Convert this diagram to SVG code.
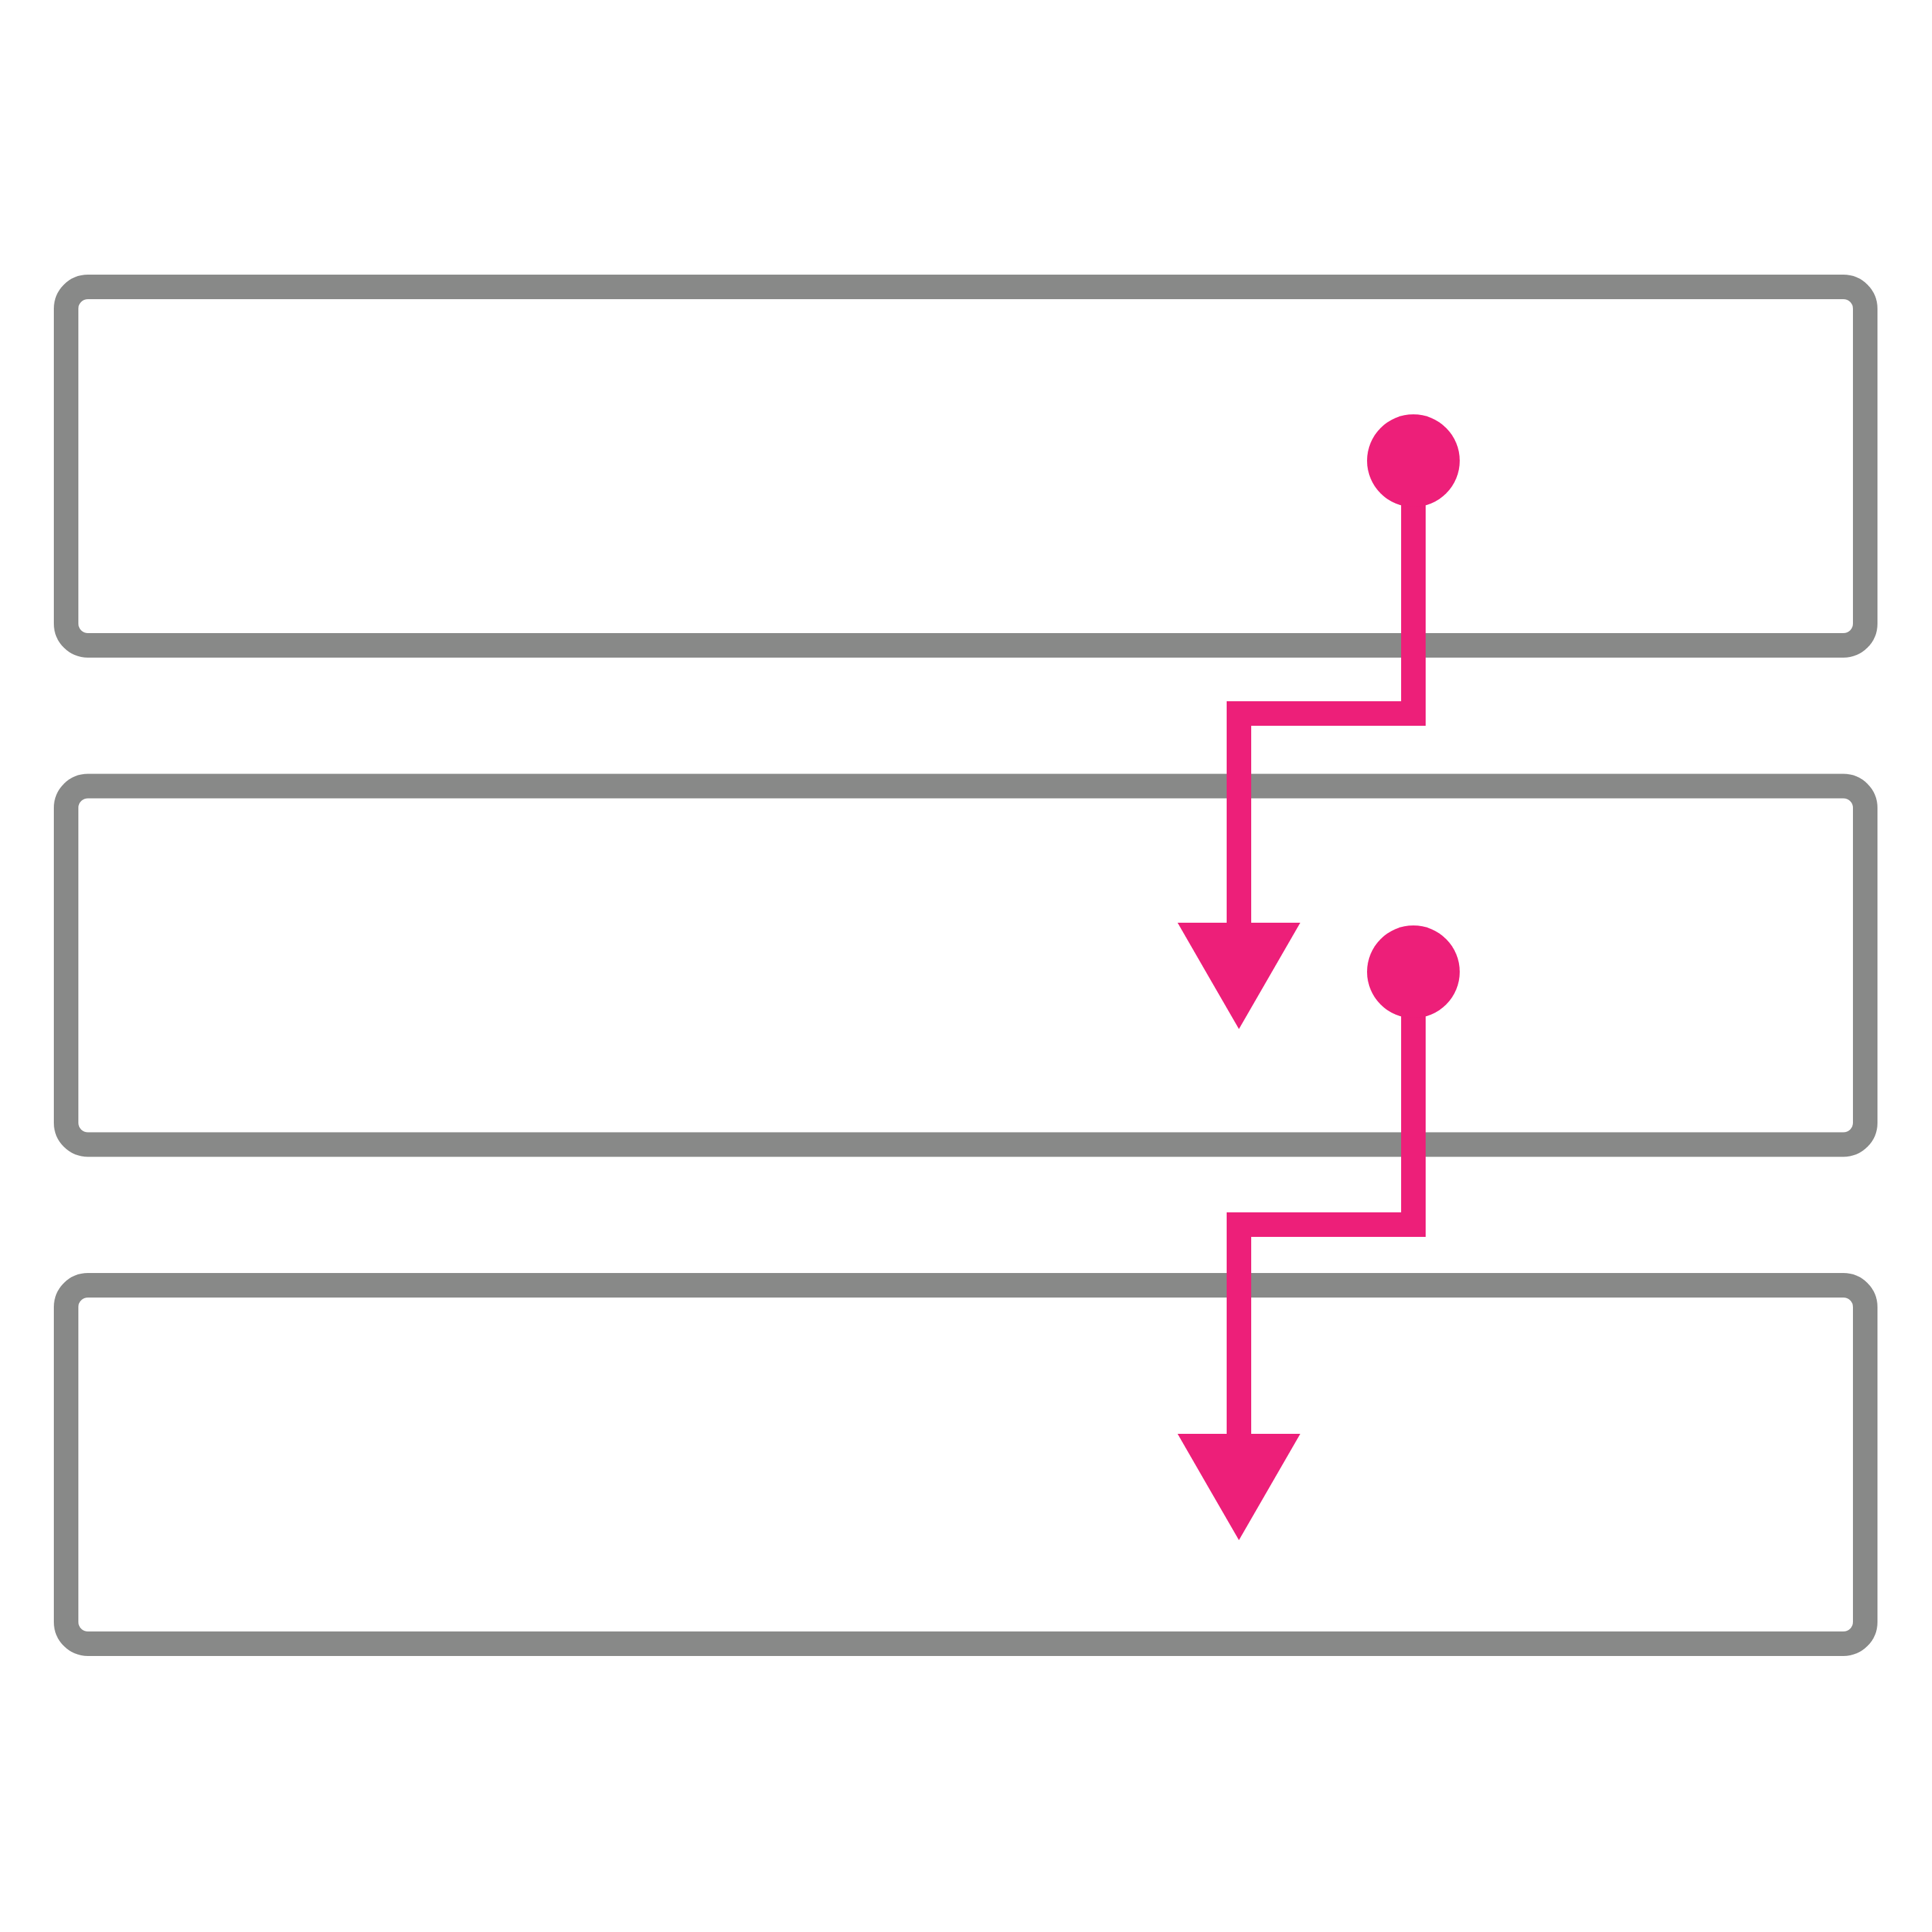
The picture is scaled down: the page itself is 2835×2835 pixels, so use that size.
<svg xmlns="http://www.w3.org/2000/svg" width="2835" height="2835" viewBox="0 0 2835 2835">
  <style>
    .box { fill: none; stroke: #888988; stroke-width: 36; }
    .conn { fill: none; stroke: #ED1F79; stroke-width: 36; stroke-linejoin: miter; stroke-linecap: butt; marker-start: url(#dot); marker-end: url(#arrow); }
  </style>
  <defs>
    <marker id="dot" markerUnits="userSpaceOnUse" viewBox="0 0 136 136" refX="68" refY="68" markerWidth="136" markerHeight="136" orient="auto">
      <circle cx="68" cy="68" r="68" fill="#ED1F79"/>
    </marker>
    <marker id="arrow" markerUnits="userSpaceOnUse" viewBox="0 0 156 180" refX="0" refY="90" markerWidth="156" markerHeight="180" orient="auto">
      <path d="M0,0 L156,90 L0,180 Z" fill="#ED1F79"/>
    </marker>
  </defs>
  <rect x="0" y="0" width="2835" height="2835" fill="#FFFFFF"/>
  <g id="node-1">
    <rect class="box" x="97" y="421" width="2640" height="526" rx="32" ry="32"/>
  </g>
  <g id="node-2">
    <rect class="box" x="97" y="1153.5" width="2640" height="526" rx="32" ry="32"/>
  </g>
  <g id="node-3">
    <rect class="box" x="97" y="1886" width="2640" height="526" rx="32" ry="32"/>
  </g>
  <g id="connectors">
    <path class="conn" d="M2074,676 V1047 H1818 V1354"/>
    <path class="conn" d="M2074,1426 V1797 H1818 V2104"/>
  </g>
</svg>
